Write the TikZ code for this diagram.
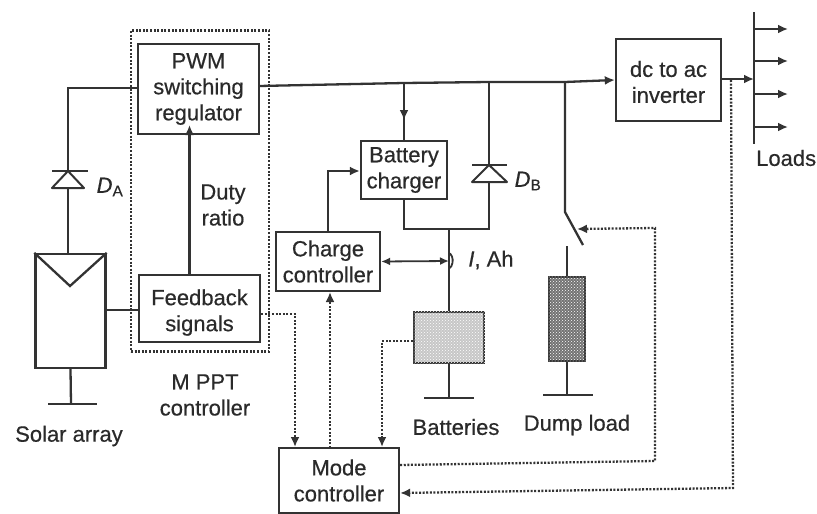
\documentclass[tikz,border=0pt]{standalone}
\usepackage{fontspec}
\setmainfont{Liberation Sans}[RawFeature={embolden=0.5}]
\usetikzlibrary{arrows.meta,patterns,calc}
\definecolor{ink}{HTML}{333333}
\definecolor{txt}{HTML}{2A2A2A}
\tikzset{
  wire/.style={draw=ink,line width=2.3pt},
  ctrl/.style={draw=ink,line width=2.3pt,dash pattern=on 2pt off 1.6pt},
  tip/.style={-{Latex[length=10pt,width=9pt]}},
  blk/.style={draw=ink,line width=2.3pt,fill=white,align=center,inner sep=0pt,text=txt,font=\fontsize{22}{26}\selectfont},
  lbl/.style={align=center,inner sep=0pt,text=txt,font=\fontsize{22}{26}\selectfont},
  dio/.style={draw=ink,line width=2pt,fill=white,line join=round}
}
\begin{document}
\begin{tikzpicture}[x=1pt,y=-1pt]
\useasboundingbox (0,0) rectangle (817,514);
% MPPT outline
\node[ctrl,minimum width=138pt,minimum height=321pt,inner sep=0pt] (mppt) at (200,191) {};
% blocks
\node[blk,minimum width=121pt,minimum height=90pt] (pwm) at (198.5,89) {PWM\\switching\\regulator};
\node[blk,minimum width=121pt,minimum height=67pt,label={[lbl,yshift=-4pt]center:Feedback\\signals}] (fb) at (199.5,308.5) {};
\node[blk,minimum width=105pt,minimum height=82pt,label={[lbl,yshift=-2pt]center:dc to ac\\inverter}] (inv) at (668.5,80) {};
\node[blk,minimum width=86pt,minimum height=58pt] (chg) at (404,170) {Battery\\charger};
\node[blk,minimum width=104pt,minimum height=59pt] (cc) at (328,261.5) {Charge\\controller};
\node[blk,minimum width=120pt,minimum height=65pt] (mode) at (339,480.5) {Mode\\controller};
\node[draw=ink,line width=2.3pt,fill=white,minimum width=70pt,minimum height=114pt,inner sep=0pt] (sol) at (70.5,311) {};
\node[draw=ink,line width=2.3pt,fill=black!22,minimum width=70pt,minimum height=51pt,inner sep=0pt] (bat) at (449,337.5) {};
\node[draw=ink,line width=2.3pt,fill=black!55,minimum width=36pt,minimum height=84pt,inner sep=0pt] (dump) at (567,319) {};
\fill[pattern=crosshatch dots,pattern color=white] (dump.south west) rectangle (dump.north east);
\fill[pattern=crosshatch dots,pattern color=white] (bat.south west) rectangle (bat.north east);
% coordinates
\coordinate (busL) at (259,86);
\coordinate (j1) at (404,83);
\coordinate (j2) at (489,82);
\coordinate (j3) at (565,82);
\coordinate (wleft) at (68,88);
\coordinate (j4) at (449,229);
\coordinate (cor) at (404,229);
\coordinate (cor2) at (489,229);
\coordinate (sens) at (449,261);
\coordinate (sw1) at (565,212);
\coordinate (sw2) at (583,245);
\coordinate (swc) at (577,229);
\coordinate (lbus) at (754,79);
\coordinate (lt) at (754,12);
\coordinate (lb) at (754,144);
\coordinate (g1) at (71,404);
\coordinate (g2) at (449,398);
\coordinate (g3) at (567,395);
\coordinate (dt) at (567,246);
% power wiring
\draw[wire] (pwm.west) ++(0,-1) -- (wleft) -- (sol.north -| wleft);
\draw[wire] (sol.east |- 0,310) -- (fb.west |- 0,310);
\draw[wire] (busL) -- (j1) -- (j2) -- (j3);
\draw[wire,tip] (j3) -- (inv.west);
\draw[wire] (j1) -- (chg.north);
\draw[wire,tip] (j1) -- (404,120);
\draw[wire] (j2) -- (cor2) -- (cor) -- (chg.south);
\draw[wire] (j4) -- (bat.north);
\draw[wire] (j3) -- (sw1) -- (sw2);
\draw[wire] (dt) -- (dump.north);
\draw[wire,tip] (fb.north -| 189.5,0) -- (189.5,125);
\draw[wire,tip] (inv.east |- 0,79) -- (lbus);
\draw[wire] (lt) -- (lb);
\foreach \yy in {29,61,94,127} \draw[wire,tip] (lbus |- 0,\yy) -- (788,\yy);
% charge controller links
\draw[wire,tip] (cc.north) -- (cc.north |- 0,171) -- (chg.west |- 0,171);
\draw[wire,{Latex[length=9pt,width=8pt]}-{Latex[length=9pt,width=8pt]},line width=1.8pt] (cc.east) -- (sens);
\draw[draw=ink,line width=1.8pt] (449,253) arc (-75:75:5 and 8);
% diodes
\draw[dio] (68,188) -- (52,188) -- (68,171) -- (84,188) -- cycle;
\draw[wire] (52,171) -- (88,171);
\draw[dio] (489,182) -- (472,182) -- (489,165) -- (507,182) -- cycle;
\draw[wire] (472,165) -- (507,165);
% solar panel and grounds
\draw[wire] (sol.north west) -- (70,286) -- (sol.north east);
\draw[wire] (sol.south) -- (g1);
\draw[wire] (48,404) -- (97,404);
\draw[wire] (bat.south) -- (g2);
\draw[wire] (424,398) -- (474,398);
\draw[wire] (dump.south) -- (g3);
\draw[wire] (543,395) -- (593,395);
% control wiring
\draw[ctrl,tip] (fb.east |- 0,314) -- (295,314) -- (295,447);
\draw[ctrl,tip] (330,448) -- (330,292);
\draw[ctrl,tip] (bat.west |- 0,341) -- (382,341) -- (382,447);
\draw[ctrl,tip] (mode.east |- 0,465) -- (655,461) -- (655,228) -- (swc);
\draw[ctrl,tip] (731,80) -- (733,488) -- (mode.east |- 0,493);
% labels
\node[lbl] (duty) at (223,205) {Duty\\ratio};
\node[lbl] (da) at (110,187) {\textit{D}\textsubscript{A}};
\node[lbl] (db) at (528,181) {\textit{D}\textsubscript{B}};
\node[lbl] (ah) at (491,260) {\textit{I}, Ah};
\node[lbl] (mp) at (205,395) {M PPT\\controller};
\node[lbl] (sa) at (69,436) {Solar array};
\node[lbl] (ba) at (456,427) {Batteries};
\node[lbl] (dl) at (577,425) {Dump load};
\node[lbl,anchor=west] (lo) at (756,158) {Loads};
\end{tikzpicture}
\end{document}
